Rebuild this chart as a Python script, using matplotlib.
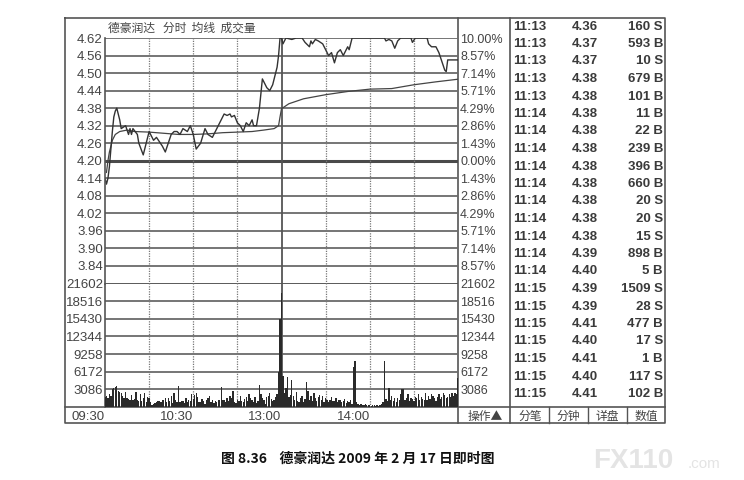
import matplotlib
matplotlib.use("Agg")
import matplotlib.pyplot as plt
from matplotlib.transforms import blended_transform_factory

W, H = 744, 480
plt.rcParams['font.family'] = ['Liberation Sans', 'Noto Sans CJK SC', 'DejaVu Sans']
CJK = ['Noto Sans CJK SC', 'DejaVu Sans']

# price line (minute from 09:30, price)
price_min = [0, 1, 2, 3, 4, 5, 6, 7, 8, 9, 10, 11, 14, 16, 17, 18, 19, 22, 23, 26, 27, 30, 31,
             33, 35, 39, 41, 43, 45, 47, 49, 51, 53, 56, 58, 60, 62, 65, 68, 70, 73, 75,
             78, 81, 83, 85, 86, 88, 90, 92, 94, 96, 98, 100, 101, 103, 105, 107, 110,
             112, 114, 116, 117, 118, 119,
             120, 121, 122, 123, 127, 130, 134, 136, 137, 139, 140, 141, 143, 145, 148,
             150, 152, 154, 156, 158, 160, 162, 165, 166, 168, 190, 191, 193, 195, 197,
             199, 201, 208, 209, 211, 219, 220, 222, 225, 227, 229, 231, 232, 233, 240]
price_val = [4.14, 4.12, 4.14, 4.18, 4.24, 4.30, 4.35, 4.37, 4.38, 4.36, 4.34, 4.31, 4.32, 4.29, 4.31, 4.29, 4.31, 4.29, 4.26, 4.22, 4.24, 4.30, 4.29,
             4.27, 4.28, 4.25, 4.23, 4.26, 4.29, 4.30, 4.30, 4.29, 4.31, 4.30, 4.32, 4.29, 4.24, 4.26, 4.31, 4.29, 4.28, 4.30,
             4.33, 4.36, 4.355, 4.36, 4.35, 4.355, 4.33, 4.32, 4.30, 4.33, 4.32, 4.34, 4.32, 4.32, 4.38, 4.48, 4.45,
             4.44, 4.46, 4.50, 4.52, 4.56, 4.62,
             4.62, 4.60, 4.61, 4.62, 4.615, 4.62, 4.62, 4.605, 4.60, 4.59, 4.61, 4.60, 4.615, 4.61, 4.60,
             4.58, 4.56, 4.57, 4.535, 4.57, 4.58, 4.56, 4.59, 4.58, 4.62, 4.62, 4.61, 4.615, 4.61, 4.585,
             4.61, 4.62, 4.62, 4.605, 4.62, 4.62, 4.60, 4.59, 4.59, 4.57, 4.54, 4.51, 4.505, 4.545, 4.545]

# average price line
avg_min = [1, 2, 3, 5, 7, 10, 15, 20, 30, 40, 50, 60, 70, 80, 90, 100, 108, 115, 118, 119,
           120, 125, 135, 150, 165, 180, 195, 210, 225, 240]
avg_val = [4.16, 4.20, 4.23, 4.27, 4.29, 4.30, 4.305, 4.30, 4.298, 4.294, 4.29, 4.29, 4.292, 4.296, 4.298, 4.30, 4.305, 4.31, 4.32, 4.35,
           4.378, 4.395, 4.412, 4.426, 4.437, 4.445, 4.447, 4.46, 4.47, 4.479]

# volume per minute
volume = [1800, 2000, 1600, 2300, 1900, 3100, 3300, 3500, 3700, 2800,
          2600, 2400, 1900, 1500, 2700, 1500, 1400, 1300, 2100, 1200,
          1400, 2600, 1200, 1000, 2300, 1100, 1600, 2500, 900, 1800,
          1600, 800, 400, 600, 700, 900, 1000, 1100, 800, 1300,
          1200, 1500, 900, 1600, 1100, 1900, 700, 2500, 1300, 900,
          3700, 800, 1000, 1100, 700, 1500, 900, 1300, 1000, 2200,
          1400, 2100, 2500, 1700, 800, 900, 1400, 1100, 600, 1200,
          1500, 2000, 900, 1300, 700, 1100, 900, 1200, 1300, 3500,
          1200, 1300, 800, 1600, 1100, 2000, 1500, 2800, 900, 700,
          1200, 1000, 2000, 1100, 800, 1400, 1700, 1100, 2300, 1600,
          1200, 900, 1800, 700, 1000, 3900, 2300, 1600, 1300, 600,
          1700, 1900, 2500, 1400, 1000, 1200, 1800, 2300, 6100, 15400,
          20000, 5500, 2400, 3400, 5300, 1800, 2100, 4700, 1900, 1300,
          2600, 1100, 900, 1500, 1900, 800, 1400, 4400, 2800, 1200,
          1900, 1100, 2400, 1500, 1000, 1700, 2100, 1300, 1900, 900,
          1600, 1200, 800, 1300, 1700, 1100, 1000, 1500, 900, 1300,
          1200, 800, 1100, 1400, 700, 1000, 900, 1300, 600, 7000,
          8000, 800, 500, 400, 600, 300, 400, 500, 300, 400,
          300, 200, 300, 400, 200, 300, 200, 300, 500, 900,
          8000, 1400, 1000, 3400, 1300, 1900, 1100, 1600, 900, 1500,
          1200, 2200, 3200, 3100, 1300, 1600, 2200, 1000, 1600, 1400,
          1000, 1800, 1500, 2200, 1200, 1700, 1400, 1200, 2500, 1300,
          1900, 1400, 2300, 2000, 1500, 1000, 1800, 2300, 1400, 1800,
          2500, 2100, 1500, 1700, 2300, 1800, 2400, 2000, 2500, 2200, 5100]

prev_close = 4.20
price_ticks = [4.62, 4.56, 4.50, 4.44, 4.38, 4.32, 4.26, 4.20, 4.14, 4.08, 4.02, 3.96, 3.90, 3.84]
vol_ticks = [21602, 18516, 15430, 12344, 9258, 6172, 3086]
time_ticks = [0, 60, 120, 180]
time_labels = ['09:30', '10:30', '13:00', '14:00']

trade_times = ['11:13'] * 5 + ['11:14'] * 10 + ['11:15'] * 7
trade_prices = ['4.36', '4.37', '4.37', '4.38', '4.38', '4.38', '4.38', '4.38', '4.38', '4.38', '4.38',
                '4.38', '4.38', '4.39', '4.40', '4.39', '4.39', '4.41', '4.40', '4.41', '4.40', '4.41']
trade_vols = ['160 S', '593 B', '10 S', '679 B', '101 B', '11 B', '22 B', '239 B', '396 B', '660 B', '20 S',
              '20 S', '15 S', '898 B', '5 B', '1509 S', '28 S', '477 B', '17 S', '1 B', '117 S', '102 B']
buttons = ['分笔', '分钟', '详盘', '数值']


def rect(x0, y0, x1, y1):
    return [x0 / W, 1 - y1 / H, (x1 - x0) / W, (y1 - y0) / H]


fig = plt.figure(figsize=(W / 100, H / 100), dpi=100)
fig.patch.set_facecolor('white')

# overlay in pixel coordinates for frames and table
ov = fig.add_axes([0, 0, 1, 1])
ov.set_xlim(0, W)
ov.set_ylim(H, 0)
ov.axis('off')
fc = '#555555'
ov.plot([65, 665, 665, 65, 65], [18, 18, 423, 423, 18], color=fc, lw=1.2)
ov.plot([458, 458], [18, 423], color=fc, lw=1.2)
ov.plot([510, 510], [18, 423], color=fc, lw=1.2)
ov.plot([65, 665], [407, 407], color=fc, lw=1.2)
for x in [549, 588, 627]:
    ov.plot([x, x], [407, 423], color=fc, lw=1.0)

ov.text(108, 27, '德豪润达   分时  均线  成交量', fontsize=8.5, color='#444', family=CJK, va='center_baseline')

for i in range(len(trade_times)):
    y = 25 + i * 17.5
    ov.text(513, y, trade_times[i], fontsize=9.5, weight='bold', color='#3a3a3a', va='center_baseline')
    ov.text(572, y, trade_prices[i], fontsize=9.5, weight='bold', color='#3a3a3a', va='center_baseline')
    ov.text(663, y, trade_vols[i], fontsize=9.5, weight='bold', color='#3a3a3a', va='center_baseline', ha='right')

ov.text(468, 415, '操作▲', fontsize=8.5, color='#444', family=CJK, va='center_baseline')
bx = [530, 568.5, 607.5, 646]
for x, b in zip(bx, buttons):
    ov.text(x, 415, b, fontsize=8.5, color='#444', family=CJK, va='center_baseline', ha='center')

ov.text(358, 457, '图 8.36    德豪润达 2009 年 2 月 17 日即时图', fontsize=10, weight='bold',
        color='#111', family=CJK, va='center_baseline', ha='center')
ov.text(593, 458, 'FX110', fontsize=20, weight='bold', color='#e4e4e4', va='center_baseline')
ov.text(688, 462, '.com', fontsize=11, color='#e4e4e4', va='center_baseline')

gc = '#6a6a6a'

# price panel
ax = fig.add_axes(rect(105, 38, 458, 283.5))
ax.set_facecolor('none')
ax.set_xlim(0, 240)
ax.set_ylim(3.78, 4.62)
for s in ['top', 'right', 'bottom']:
    ax.spines[s].set_visible(False)
ax.spines['left'].set_color(fc)
ax.spines['left'].set_linewidth(1.2)
ax.set_xticks([])
ax.set_yticks([])
for p in price_ticks:
    if p == prev_close:
        ax.axhline(p, color='#4a4a4a', lw=2.2)
    else:
        ax.axhline(p, color=gc, lw=1.3)
ax.axhline(3.78, color='#4a4a4a', lw=2.0)
for m in [30, 60, 90, 150, 180, 210]:
    ax.axvline(m, color='#777', lw=0.9, ls=(0, (1, 1)))
ax.axvline(120, color=fc, lw=1.3)
ax.plot(avg_min, avg_val, color='#444', lw=0.9)
ax.plot(price_min, price_val, color='#333', lw=1.0)
tr = blended_transform_factory(ax.transAxes, ax.transData)
for p in price_ticks:
    ax.text(-0.006, p, '%.2f' % p, transform=tr, ha='right', va='center_baseline', fontsize=9.5, color='#444')
    pct = abs(p - prev_close) / prev_close * 100
    ax.text(1.006, p, '%.2f%%' % pct, transform=tr, ha='left', va='center_baseline', fontsize=9, color='#444')

# volume panel
av = fig.add_axes(rect(105, 283.5, 458, 407))
av.set_facecolor('none')
av.set_xlim(0, 240)
av.set_ylim(0, 21602)
for s in ['top', 'right', 'bottom']:
    av.spines[s].set_visible(False)
av.spines['left'].set_color(fc)
av.spines['left'].set_linewidth(1.2)
av.set_xticks([])
av.set_yticks([])
for v in vol_ticks[1:]:
    av.axhline(v, color=gc, lw=1.3)
for m in [30, 60, 90, 150, 180, 210]:
    av.axvline(m, color='#777', lw=0.9, ls=(0, (1, 1)))
av.axvline(120, color=fc, lw=1.3)
av.bar(range(len(volume)), volume, width=0.9, color='#2a2a2a', lw=0, zorder=3)
trv = blended_transform_factory(av.transAxes, av.transData)
for v in vol_ticks:
    av.text(-0.006, v, str(v), transform=trv, ha='right', va='center_baseline', fontsize=9.5, color='#444')
    av.text(1.006, v, str(v), transform=trv, ha='left', va='center_baseline', fontsize=9, color='#444')
trt = blended_transform_factory(av.transData, av.transAxes)
for m, lab in zip(time_ticks, time_labels):
    av.text(m, -0.065, lab, transform=trt, ha='right', va='center_baseline', fontsize=9.5, color='#444')

fig.savefig('out.png', dpi=100)
